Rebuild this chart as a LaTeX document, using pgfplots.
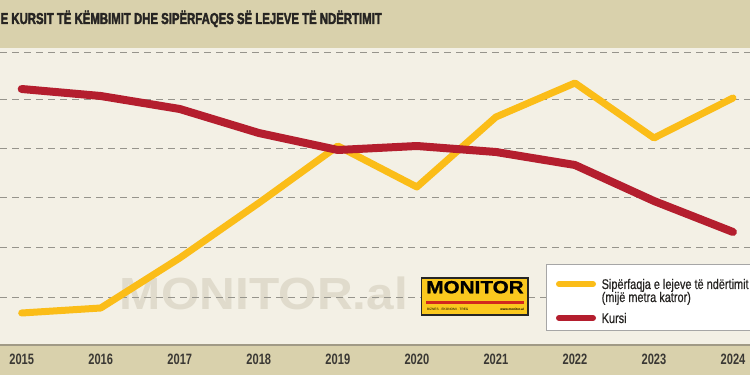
\documentclass[border=0pt]{standalone}
\usepackage{fontspec}
\setmainfont{Liberation Sans}
\usepackage{pgfplots}
\pgfplotsset{compat=1.18}
\newfontfamily\titlefont{Liberation Sans}[FakeStretch=0.72,FakeBold=2.2]
\newfontfamily\yearfont{Liberation Sans}[FakeStretch=0.74]
\newfontfamily\legfont{Liberation Sans}[FakeStretch=0.78,FakeBold=0.6]
\newfontfamily\wmfont{Liberation Sans}[FakeStretch=1.1]
\newfontfamily\logofont{Liberation Sans}[FakeStretch=1.17,FakeBold=1]
\definecolor{bandbeige}{RGB}{217,209,172}
\definecolor{plotcream}{RGB}{243,240,229}
\definecolor{bandline}{RGB}{160,154,134}
\definecolor{wmgray}{RGB}{224,219,204}
\definecolor{titlegray}{RGB}{38,36,34}
\definecolor{yeargray}{RGB}{58,56,52}
\definecolor{gridgray}{RGB}{150,148,140}
\definecolor{myyellow}{RGB}{251,189,24}
\definecolor{myred}{RGB}{180,30,46}
\definecolor{logoyellow}{RGB}{250,200,30}
\definecolor{logored}{RGB}{210,40,30}
\begin{document}
\begin{tikzpicture}[x=1pt,y=1pt]
\useasboundingbox (0,0) rectangle (750,375);
\clip (0,0) rectangle (750,375);
\fill[bandbeige] (0,0) rectangle (750,375);
\fill[plotcream] (0,30) rectangle (750,327);
\draw[bandline, line width=1.5pt] (0,30) -- (750,30);
\node[anchor=base east, inner sep=0, text=wmgray, font=\wmfont\bfseries\fontsize{45}{45}\selectfont] at (408,65) {MONITOR.al};
\node[anchor=base east, inner sep=0, text=titlegray, font=\titlefont\bfseries\fontsize{15.8}{16}\selectfont] at (382,351) {E KURSIT TË KËMBIMIT DHE SIPËRFAQES SË LEJEVE TË NDËRTIMIT};
\begin{axis}[
  at={(0,0)}, anchor=south west,
  scale only axis, width=750pt, height=375pt,
  xmin=2014.7254, xmax=2024.2151, ymin=0, ymax=375,
  axis line style={draw=none}, major tick length=0pt,
  xtick={2015,2016,2017,2018,2019,2020,2021,2022,2023,2024},
  xticklabels={2015,2016,2017,2018,2019,2020,2021,2022,2023,2024},
  xticklabel style={anchor=center, yshift=15.5pt, font=\yearfont\bfseries\fontsize{15}{15}\selectfont, text=yeargray},
  ytick={77.7,127,177,226.3,275.7,322.3}, yticklabels={},
  ymajorgrids, grid style={gridgray, line width=1pt, dash pattern=on 6.7pt off 5.3pt},
  clip=false,
]
\addplot[color=myyellow, line width=7pt, line cap=round, line join=round] coordinates {
(2015,62) (2016,67) (2017,117) (2018,172) (2019,229) (2020,188) (2021,258) (2022,292) (2023,237) (2024,277)};
\addplot[color=myred, line width=8pt, line cap=round, line join=round] coordinates {
(2015,286) (2016,279) (2017,266) (2018,242) (2019,225) (2020,229) (2021,223) (2022,210) (2023,174) (2024,143)};
\end{axis}
% logo
\draw[fill=logoyellow, draw=black!85, line width=1.2pt] (421.7,60) rectangle (528,97);
\node[anchor=base, inner sep=0, font=\logofont\bfseries\fontsize{17.7}{18}\selectfont] at (475,81.7) {MONITOR};
\draw[logored, line width=2.5pt] (426,72.3) -- (524,72.3);
\node[anchor=base west, inner sep=0, font=\fontsize{3.2}{3.5}\selectfont] at (427,64.5) {BIZNES · EKONOMI · TREG};
\node[anchor=base east, inner sep=0, font=\bfseries\fontsize{3.2}{3.5}\selectfont] at (524,64.5) {www.monitor.al};
% legend
\draw[fill=white, draw=gray!70, line width=1pt] (546.7,44.3) rectangle (760,110);
\draw[myyellow, line width=6pt, line cap=round] (559,91) -- (593,91);
\draw[myred, line width=6pt, line cap=round] (559,57) -- (593,57);
\node[anchor=base west, inner sep=0, text=titlegray, font=\legfont\fontsize{14}{14}\selectfont] at (601.5,86) {Sipërfaqja e lejeve të ndërtimit};
\node[anchor=base west, inner sep=0, text=titlegray, font=\legfont\fontsize{14}{14}\selectfont] at (601.5,73) {(mijë metra katror)};
\node[anchor=base west, inner sep=0, text=titlegray, font=\legfont\fontsize{14}{14}\selectfont] at (601.5,52) {Kursi};
\end{tikzpicture}
\end{document}
